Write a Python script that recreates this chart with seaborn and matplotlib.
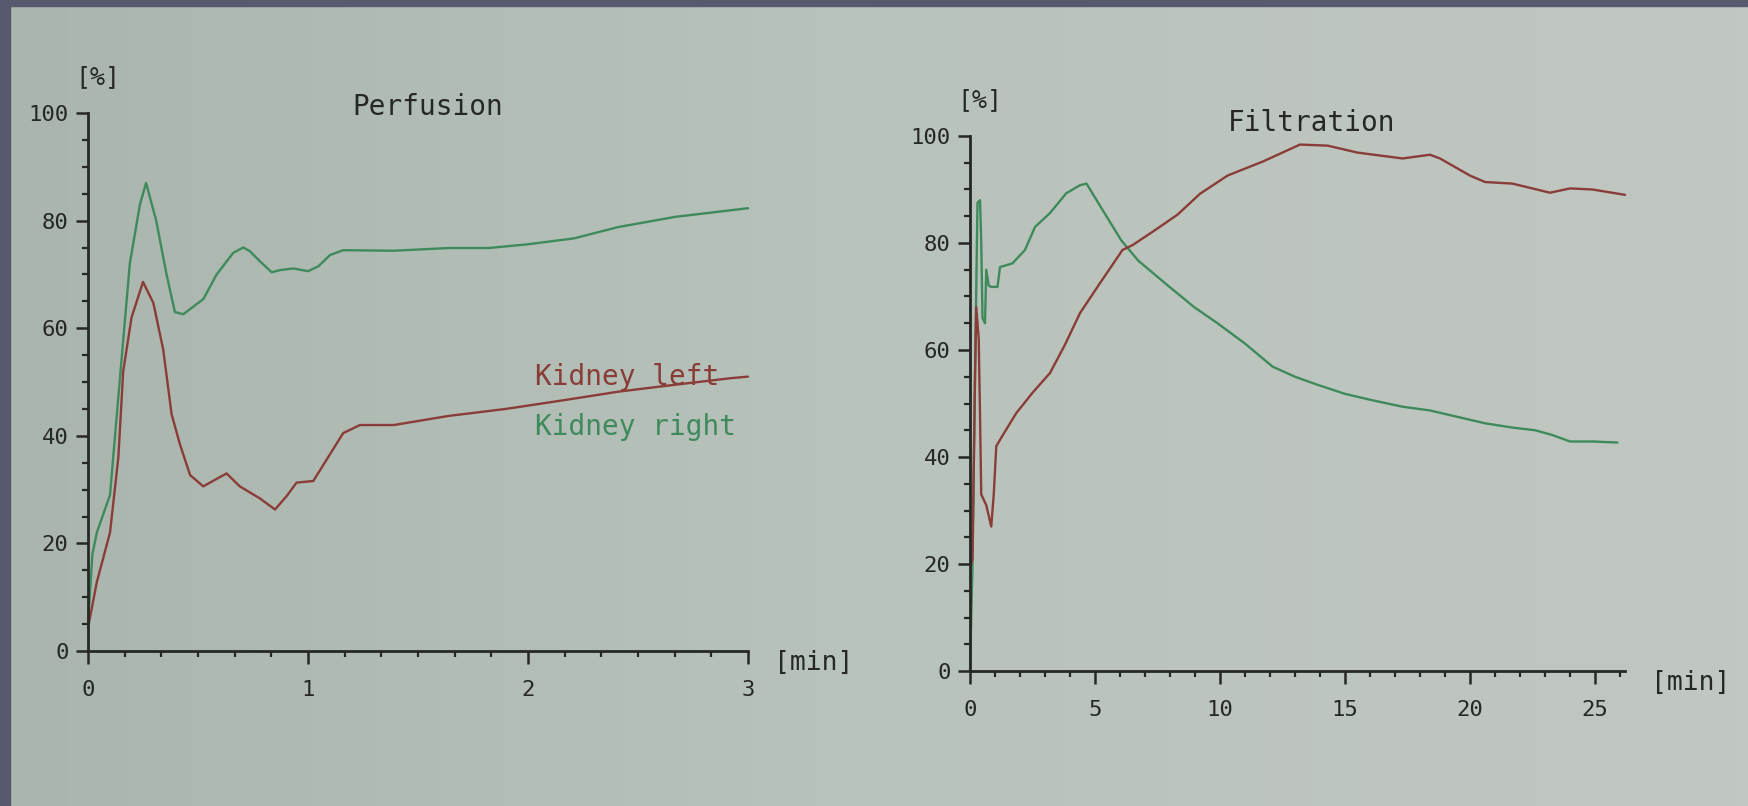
import numpy as np
import pandas as pd
import matplotlib
matplotlib.use("Agg")
import matplotlib.pyplot as plt
from matplotlib.ticker import MultipleLocator, FixedLocator
from matplotlib.patches import Rectangle
from matplotlib.colors import LinearSegmentedColormap
import seaborn as sns

# ---------------- data ----------------
# Perfusion, time in minutes
perf_t_left = [0, 0.04, 0.1, 0.138, 0.16, 0.198, 0.25, 0.297, 0.342, 0.38, 0.418, 0.464,
               0.524, 0.585, 0.63, 0.69, 0.78, 0.85, 0.903, 0.948, 1.024, 1.085, 1.16,
               1.236, 1.39, 1.64, 1.9, 2.16, 2.41, 2.67, 2.92, 3.0]
perf_left = [4.3, 12.8, 22, 36, 52, 62, 68.6, 64.7, 56, 44, 38.4, 32.7,
             30.6, 32, 33, 30.6, 28.4, 26.3, 28.8, 31.3, 31.6, 35.6, 40.5,
             42, 42, 43.7, 45, 46.6, 48.2, 49.5, 50.7, 51]

perf_t_right = [0, 0.02, 0.04, 0.1, 0.15, 0.19, 0.236, 0.264, 0.31, 0.357, 0.395, 0.433,
                0.524, 0.585, 0.66, 0.706, 0.736, 0.78, 0.835, 0.873, 0.933, 1.0, 1.047,
                1.1, 1.16, 1.39, 1.64, 1.82, 2.0, 2.21, 2.41, 2.67, 3.0]
perf_right = [5, 18, 22, 29, 53, 72, 83, 87, 80, 70, 63, 62.6,
              65.4, 70, 74, 75, 74.3, 72.5, 70.4, 70.8, 71.1, 70.6, 71.5,
              73.6, 74.5, 74.4, 74.9, 74.9, 75.6, 76.7, 78.8, 80.7, 82.3]

# Filtration, time in minutes
filt_t_left = [0.05, 0.1, 0.2, 0.25, 0.35, 0.4, 0.45, 0.55, 0.65, 0.75, 0.85, 0.95, 1.05,
               1.3, 1.85, 2.5, 3.2, 3.8, 4.4, 5.2, 6.1, 6.5, 7.4, 8.3, 9.2, 10.3,
               11.7, 13.2, 14.3, 15.5, 17.3, 18.4, 18.8, 20.0, 20.6, 21.7, 23.2,
               24.0, 24.9, 26.2]
filt_left = [20, 21, 55, 68, 62, 48, 33, 32, 31, 29, 27, 33, 42,
             44, 48.2, 52, 55.7, 61, 66.9, 72.5, 78.7, 79.6, 82.4, 85.3, 89.2, 92.6,
             95.2, 98.4, 98.2, 96.9, 95.8, 96.5, 95.8, 92.6, 91.4, 91.1, 89.4,
             90.2, 90, 89]

filt_t_right = [0, 0.1, 0.2, 0.3, 0.4, 0.45, 0.5, 0.6, 0.65, 0.75, 0.85, 1.1, 1.2,
                1.7, 2.2, 2.6, 3.2, 3.85, 4.4, 4.66, 5.3, 6.05, 6.73, 7.85, 8.97,
                9.87, 11.0, 12.1, 13.0, 13.9, 15.0, 16.1, 17.3, 18.4, 19.5, 20.6,
                21.7, 22.6, 23.3, 24.0, 24.9, 25.9]
filt_right = [0, 20, 55, 87.5, 88, 80, 66, 65, 75, 72, 71.8, 71.8, 75.5,
              76.2, 78.7, 83, 85.6, 89.3, 90.8, 91.1, 86.2, 80.5, 76.7, 72.3, 68,
              65.1, 61.2, 56.9, 55, 53.5, 51.8, 50.6, 49.4, 48.7, 47.5, 46.3,
              45.5, 45, 44.1, 42.9, 42.9, 42.7]

y_ticks = [0, 20, 40, 60, 80, 100]
perf_x_ticks = [0, 1, 2, 3]
filt_x_ticks = [0, 5, 10, 15, 20, 25]
titles = ["Perfusion", "Filtration"]
series_labels = ["Kidney left", "Kidney right"]

# ---------------- style ----------------
sns.set_theme(style="white")
FONT = ["DejaVu Sans Mono", "DejaVu Sans"]
plt.rcParams["font.family"] = FONT

RED = "#8a3c38"
GREEN = "#3f8a5c"
INK = "#262826"

fig = plt.figure(figsize=(17.49, 8.06), dpi=100)

# paper background (soft gradient) and dark slide frame
bg = fig.add_axes([0, 0, 1, 1], zorder=-10)
grad = np.linspace(0, 1, 256)[None, :]
cmap = LinearSegmentedColormap.from_list("paper", ["#a9b5ad", "#b8c3bb", "#c1c7c1"])
bg.imshow(grad, aspect="auto", cmap=cmap, extent=[0, 1, 0, 1])
bg.set_axis_off()
fig.patches.append(Rectangle((0, 1 - 6 / 806), 1, 6 / 806, transform=fig.transFigure,
                             color="#575a6e", zorder=5))
fig.patches.append(Rectangle((0, 0), 10 / 1749, 1, transform=fig.transFigure,
                             color="#575a6e", zorder=5))

ax1 = fig.add_axes([88 / 1749, 155 / 806, 660 / 1749, 538 / 806])
ax2 = fig.add_axes([970 / 1749, 135 / 806, 655 / 1749, 535 / 806])


def style_axes(ax, xmax, xticks, xminor):
    ax.set_facecolor("none")
    ax.set_xlim(0, xmax)
    ax.set_ylim(0, 100)
    for s in ["top", "right"]:
        ax.spines[s].set_visible(False)
    for s in ["left", "bottom"]:
        ax.spines[s].set_color(INK)
        ax.spines[s].set_linewidth(2.0)
    ax.xaxis.set_major_locator(FixedLocator(xticks))
    ax.xaxis.set_minor_locator(MultipleLocator(xminor))
    ax.yaxis.set_major_locator(FixedLocator(y_ticks))
    ax.yaxis.set_minor_locator(MultipleLocator(5))
    ax.tick_params(which="major", direction="out", length=9, width=1.8, color=INK,
                   labelsize=16, labelcolor=INK, bottom=True, left=True)
    ax.tick_params(which="minor", direction="out", length=4, width=1.6, color=INK,
                   bottom=True, left=True)
    ax.tick_params(axis="x", which="major", pad=12)
    ax.tick_params(axis="y", which="major", pad=5)
    ax.set_xlabel("")
    ax.set_ylabel("")
    ax.text(0.015, 1.067, "[%]", transform=ax.transAxes, ha="center", va="center",
            fontsize=18, color=INK)
    ax.text(1.10, -0.022, "[min]", transform=ax.transAxes, ha="center", va="center",
            fontsize=19, color=INK, clip_on=False)


# ---------------- Perfusion ----------------
df_pl = pd.DataFrame({"t": perf_t_left, "v": perf_left})
df_pr = pd.DataFrame({"t": perf_t_right, "v": perf_right})
sns.lineplot(data=df_pr, x="t", y="v", ax=ax1, color=GREEN, lw=1.7, estimator=None)
sns.lineplot(data=df_pl, x="t", y="v", ax=ax1, color=RED, lw=1.7, estimator=None)
style_axes(ax1, 3, perf_x_ticks, 1 / 6)
ax1.set_xticklabels([str(v) for v in perf_x_ticks])
ax1.set_yticklabels([str(v) for v in y_ticks])
ax1.text(0.515, 1.011, titles[0], transform=ax1.transAxes, ha="center", va="center",
         fontsize=20, color=INK)
ax1.text(2.03, 50.9, series_labels[0], ha="left", va="center", fontsize=20, color=RED)
ax1.text(2.03, 41.6, series_labels[1], ha="left", va="center", fontsize=20, color=GREEN)

# ---------------- Filtration ----------------
df_fl = pd.DataFrame({"t": filt_t_left, "v": filt_left})
df_fr = pd.DataFrame({"t": filt_t_right, "v": filt_right})
sns.lineplot(data=df_fr, x="t", y="v", ax=ax2, color=GREEN, lw=1.7, estimator=None)
sns.lineplot(data=df_fl, x="t", y="v", ax=ax2, color=RED, lw=1.7, estimator=None)
style_axes(ax2, 26.2, filt_x_ticks, 1)
ax2.set_xticklabels([str(v) for v in filt_x_ticks])
ax2.set_yticklabels([str(v) for v in y_ticks])
ax2.text(0.522, 1.024, titles[1], transform=ax2.transAxes, ha="center", va="center",
         fontsize=20, color=INK)

for ax in (ax1, ax2):
    for line in ax.lines:
        line.set_clip_on(False)

fig.savefig("out.png", dpi=100)
